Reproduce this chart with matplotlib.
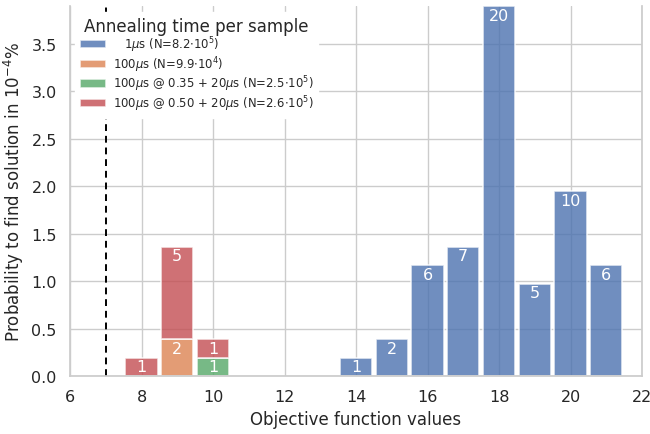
import matplotlib
matplotlib.use("Agg")
import matplotlib.pyplot as plt
import seaborn as sns

sns.set_theme(style="whitegrid")
plt.rcParams['font.family'] = ['DejaVu Sans']

# data
x_blue = [14, 15, 16, 17, 18, 19, 20, 21]
y_blue = [0.195, 0.39, 1.17, 1.365, 3.9, 0.975, 1.95, 1.17]
n_blue = [1, 2, 6, 7, 20, 5, 10, 6]

x_orange = [9]
y_orange = [0.39]
n_orange = [2]

x_green = [10]
y_green = [0.195]
n_green = [1]

x_red = [8, 9, 10]
y_red = [0.195, 0.975, 0.195]
n_red = [1, 5, 1]
red_bottom = [0.0, 0.39, 0.195]

labels = [r"   1$\mu$s (N=8.2$\cdot$10$^5$)",
          r"100$\mu$s (N=9.9$\cdot$10$^4$)",
          r"100$\mu$s @ 0.35 + 20$\mu$s (N=2.5$\cdot$10$^5$)",
          r"100$\mu$s @ 0.50 + 20$\mu$s (N=2.6$\cdot$10$^5$)"]
pal = sns.color_palette("deep")

fig = plt.figure(figsize=(6.5, 4.35), dpi=100)
ax = fig.add_axes([0.1077, 0.1333, 0.88, 0.8506])

w = 0.9
kw = dict(width=w, alpha=0.8, edgecolor="white", linewidth=1.2)
ax.bar(x_blue, y_blue, color=pal[0], label=labels[0], **kw)
ax.bar(x_orange, y_orange, color=pal[1], label=labels[1], **kw)
ax.bar(x_green, y_green, color=pal[2], label=labels[2], **kw)
ax.bar(x_red, y_red, bottom=red_bottom, color=pal[3], label=labels[3], **kw)

def lab(xs, ys, ns, bottoms=None):
    for i, (x, y, n) in enumerate(zip(xs, ys, ns)):
        b = bottoms[i] if bottoms else 0
        ax.text(x, b + y - 0.02, str(n), ha="center", va="top", color="white", fontsize=11.5)

lab(x_blue, y_blue, n_blue)
lab(x_orange, y_orange, n_orange)
lab(x_green, y_green, n_green)
lab(x_red, y_red, n_red, red_bottom)

ax.axvline(7, color="black", linestyle="--", linewidth=1.4, dashes=(3.5, 2.5), zorder=1)

ax.set_xlim(6, 22)
ax.set_ylim(0, 3.9)
ax.set_xticks(range(6, 23, 2))
ax.set_yticks([0, 0.5, 1.0, 1.5, 2.0, 2.5, 3.0, 3.5])
ax.tick_params(axis="both", labelsize=11.5)
ax.set_xlabel("Objective function values", fontsize=12)
ax.set_ylabel(r"Probability to find solution in $10^{-4}$%", fontsize=12)
ax.spines["top"].set_visible(False)

leg = ax.legend(loc="upper left", title="Annealing time per sample", fontsize=8.4,
                title_fontsize=12, frameon=True, framealpha=1.0, edgecolor="white",
                labelspacing=0.0, handlelength=2.2, handletextpad=0.6,
                bbox_to_anchor=(-0.001, 1.0))
leg.set_zorder(5)

fig.savefig("out.png", dpi=100)
